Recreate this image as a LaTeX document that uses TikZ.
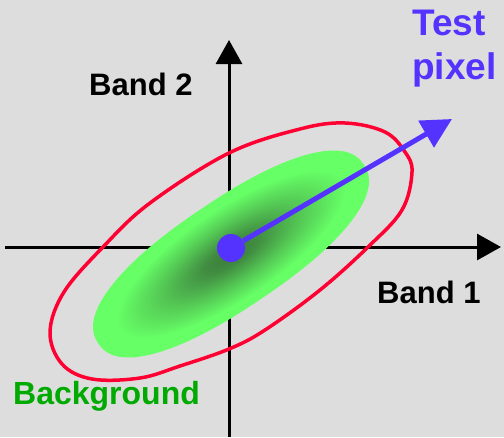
\documentclass[tikz,border=0pt]{standalone}
\usepackage{fontspec}
\setmainfont{Liberation Sans}
\usepackage{xcolor}
\definecolor{BgGray}{HTML}{DDDDDD}
\definecolor{PixBlue}{HTML}{5533FF}
\definecolor{BackGreen}{HTML}{00AA00}
\definecolor{BlobLight}{HTML}{66FF66}
\definecolor{BlobDark}{HTML}{3B7A3B}
\definecolor{RingRed}{HTML}{FF0033}
\usetikzlibrary{arrows.meta}
\pgfdeclareradialshading{blob}{\pgfpoint{0bp}{0bp}}{color(0bp)=(BlobDark); color(5bp)=(BlobDark!85!BlobLight); color(13bp)=(BlobDark!40!BlobLight); color(21bp)=(BlobLight); color(25bp)=(BlobLight); color(50bp)=(BlobLight)}

\begin{document}
\begin{tikzpicture}[x=1pt, y=-1pt, line join=round,
    axis/.style={line width=3pt, -{Triangle[length=24pt,width=26pt]}},
    bandlabel/.style={font=\fontsize{31}{36}\selectfont\bfseries, inner sep=0pt, anchor=base west}]
        \fill[BgGray] (0,0) rectangle (504,437);
        \useasboundingbox (0,0) rectangle (504,437);
        % axes
        \coordinate (xstart) at (5,247);
        \coordinate (xend) at (501,247);
        \coordinate (ystart) at (229,437);
        \coordinate (yend) at (229,40);
        \draw[axis] (xstart) -- (xend);
        \draw[axis] (ystart) -- (yend);
        % background class (blunt ellipse)
        \coordinate (mean) at (231,254);
        \shade[shading=blob, transform canvas={shift={(mean)}, rotate=34}]
          plot[domain=0:360, samples=120, smooth cycle]
          ({160*sign(cos(\x))*pow(abs(cos(\x)),0.87)}, {54*sign(sin(\x))*pow(abs(sin(\x)),0.87)});
        \draw[RingRed, line width=3.5pt] plot[smooth cycle, tension=0.6] coordinates {
          (50,332) (64,292) (103,247) (150,203) (229,153) (300,129) (345,123)
          (385,132) (405,152) (412,172) (402,210) (368,247) (320,290) (265,330)
          (229,349) (180,366) (140,378) (92,379) (62,364)};
        % test pixel
        \node[circle, fill=PixBlue, minimum size=28pt, inner sep=0pt] (pix) at (231,248) {};
        \coordinate (tip) at (452,119);
        \draw[PixBlue, line width=5pt, -{Triangle[length=30pt,width=30pt]}] (pix) -- (tip);
        % labels
        \node[bandlabel] (band2) at (89,95) {Band 2};
        \node[bandlabel] (band1) at (377,303) {Band 1};
        \node[font=\fontsize{37}{44}\selectfont\bfseries, text=PixBlue, align=left,
          anchor=north west, inner sep=0pt] (testlbl) at (412,10) {Test\\pixel};
        \node[bandlabel, text=BackGreen, font=\fontsize{32}{36}\selectfont\bfseries] (bglbl) at (13,404) {Background};
\end{tikzpicture}
\end{document}
